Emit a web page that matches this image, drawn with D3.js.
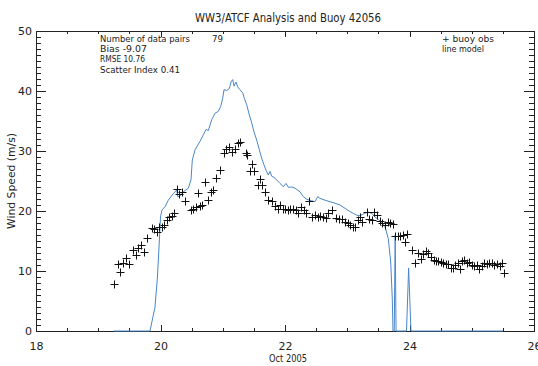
<!DOCTYPE html>
<html><head><meta charset="utf-8">
<script src="https://cdn.jsdelivr.net/npm/d3@7"></script>
<style>
html,body{margin:0;padding:0;background:#fff;}
svg{display:block;}
text{font-family:"DejaVu Sans","Liberation Sans",sans-serif;fill:#222;}
</style></head>
<body>
<script>
// ---------- data ----------
const obsDay = [19.258,19.312,19.354,19.402,19.441,19.494,19.563,19.606,19.643,19.687,19.730,19.779,
19.858,19.895,19.939,19.981,20.019,20.056,20.100,20.142,20.180,20.222,20.270,20.297,20.340,20.394,
20.490,20.527,20.565,20.607,20.634,20.671,20.715,20.768,20.812,20.849,20.891,20.956,21.020,21.052,
21.101,21.153,21.197,21.250,21.277,21.368,21.395,21.438,21.475,21.507,21.571,21.598,21.635,21.679,
21.732,21.786,21.840,21.882,21.924,21.963,22.000,22.043,22.085,22.134,22.176,22.213,22.257,22.300,
22.342,22.391,22.438,22.482,22.526,22.567,22.611,22.654,22.695,22.751,22.819,22.873,22.920,22.964,
23.008,23.044,23.088,23.125,23.168,23.209,23.241,23.312,23.354,23.402,23.434,23.483,23.526,23.563,
23.607,23.650,23.686,23.730,23.767,23.811,23.852,23.891,23.928,23.965,24.036,24.088,24.141,24.185,
24.222,24.265,24.302,24.345,24.389,24.426,24.462,24.501,24.543,24.587,24.623,24.662,24.699,24.736,
24.775,24.812,24.848,24.880,24.919,24.956,25.000,25.037,25.080,25.117,25.160,25.197,25.240,25.277,
25.321,25.362,25.406,25.449,25.481,25.523];
const obsSpeed = [7.8,11.2,9.9,11.3,12.1,11.2,13.5,12.7,13.8,14.3,13.1,15.5,
17.1,17.0,16.5,17.3,17.4,17.7,18.5,19.0,19.2,19.6,23.6,22.8,23.1,21.7,
20.2,20.3,20.6,23.0,20.8,21.0,24.9,21.8,23.1,23.5,25.5,26.8,29.6,30.4,
30.7,29.9,30.4,31.3,31.5,29.7,29.3,26.6,27.9,26.6,24.3,25.3,24.3,23.2,
21.9,21.7,20.8,20.4,21.0,20.4,20.4,20.2,20.4,20.3,20.2,19.7,20.6,20.2,
19.6,21.7,18.95,19.3,19.05,19.2,18.95,18.8,19.6,20.2,18.8,18.6,18.6,18.2,
18.05,17.7,17.4,17.4,18.5,18.95,18.2,19.9,18.6,18.5,19.9,19.3,18.4,18.05,
17.7,18.2,17.95,17.8,15.8,15.8,15.8,16.0,14.9,16.1,13.5,11.3,13.05,11.95,
12.8,13.3,12.95,12.3,11.8,11.7,11.7,11.55,11.4,11.2,11.1,10.45,10.45,11.0,
11.3,10.3,11.7,11.8,11.3,11.55,11.0,10.8,11.0,10.3,10.8,11.3,11.2,11.4,
11.3,11.0,11.2,10.8,11.4,9.7];

const modelDay = [19.25,19.831,19.912,19.951,19.981,20.000,20.024,20.073,20.125,20.206,20.260,20.276,
20.313,20.367,20.447,20.490,20.511,20.555,20.634,20.688,20.731,20.768,20.822,20.876,20.928,20.967,
20.999,21.020,21.064,21.106,21.133,21.160,21.181,21.213,21.240,21.277,21.321,21.346,21.385,21.427,
21.465,21.502,21.546,21.588,21.625,21.662,21.695,21.732,21.759,21.786,21.823,21.867,21.919,21.973,
22.016,22.053,22.107,22.161,22.241,22.294,22.349,22.429,22.482,22.526,22.562,22.643,22.723,22.803,
22.883,22.964,23.044,23.097,23.152,23.204,23.274,23.338,23.393,23.446,23.499,23.554,23.607,23.659,
23.698,23.723,23.735,23.755,23.770,23.784,23.952,23.986,24.024,25.50];
const modelSpeed = [0,0,4,9,15,19,20.2,20.7,21.8,22.9,23.5,22.4,
22.5,23.2,23.8,25.2,28.5,30.2,31.6,32.7,33.6,33.4,35.2,36.3,36.6,37.4,
38.8,40.2,40.1,40.4,41.5,41.9,40.8,41.5,40.7,40.2,39.7,38.8,37.7,36.0,
34.7,33.2,31.8,30.2,28.8,27.7,26.8,26.0,26.6,25.8,25.6,25.2,24.6,24.05,
24.6,23.95,24.0,23.8,23.2,22.4,21.95,21.7,21.55,22.4,22.1,21.8,21.55,21.3,
21.0,20.45,19.9,19.6,19.3,19.2,19.6,19.8,19.6,19.0,18.6,18.0,17.4,15.4,
11.5,5.5,0,0,16,0,0,10.5,0,0];

const xTicks = [18,20,22,24,26];
const xMinor = [18.5,19,19.5,20.5,21,21.5,22.5,23,23.5,24.5,25,25.5];
const yTicks = [0,10,20,30,40,50];
const yMinor = [1,2,3,4,5,6,7,8,9,11,12,13,14,15,16,17,18,19,21,22,23,24,25,26,27,28,29,
31,32,33,34,35,36,37,38,39,41,42,43,44,45,46,47,48,49];
const titleText = "WW3/ATCF Analysis and Buoy 42056";
const statLines = ["Number of data pairs","Bias -9.07","RMSE 10.76","Scatter Index  0.41"];
const pairCount = "79";
const legendLines = ["+ buoy obs","line model"];
const xTitle = "Oct 2005";
const yTitle = "Wind Speed (m/s)";

// ---------- layout ----------
const W=538,H=366;
const L=36,R=534,T=31,B=331;
const ink="#222";
const blue="#4a86c8";

const svg=d3.select("body").append("svg").attr("width",W).attr("height",H);
svg.append("rect").attr("width",W).attr("height",H).attr("fill","#fff");

const x=d3.scaleLinear().domain([18,26]).range([L,R]);
const y=d3.scaleLinear().domain([0,50]).range([B,T]);

function styleAxis(g){
  g.select(".domain").attr("stroke",ink).attr("stroke-width",1);
  g.selectAll(".tick line").attr("stroke",ink).attr("stroke-width",1);
  g.selectAll(".tick text").attr("fill",ink).style("font-size","11px").style("font-family",'"DejaVu Sans",sans-serif');
  g.attr("shape-rendering","crispEdges");
}
// bottom
svg.append("g").attr("transform",`translate(0,${B})`)
  .call(d3.axisBottom(x).tickValues(xTicks).tickSize(-6).tickSizeOuter(0).tickPadding(11).tickFormat(d3.format("d")))
  .call(styleAxis);
svg.append("g").attr("transform",`translate(0,${B})`)
  .call(d3.axisBottom(x).tickValues(xMinor).tickSize(-3).tickSizeOuter(0).tickFormat(""))
  .call(g=>g.select(".domain").remove()).call(styleAxis);
// top
svg.append("g").attr("transform",`translate(0,${T})`)
  .call(d3.axisTop(x).tickValues(xTicks).tickSize(-6).tickSizeOuter(0).tickFormat(""))
  .call(styleAxis);
svg.append("g").attr("transform",`translate(0,${T})`)
  .call(d3.axisTop(x).tickValues(xMinor).tickSize(-3).tickSizeOuter(0).tickFormat(""))
  .call(g=>g.select(".domain").remove()).call(styleAxis);
// left
svg.append("g").attr("transform",`translate(${L},0)`)
  .call(d3.axisLeft(y).tickValues(yTicks).tickSize(-10).tickSizeOuter(0).tickPadding(4))
  .call(styleAxis);
svg.append("g").attr("transform",`translate(${L},0)`)
  .call(d3.axisLeft(y).tickValues(yMinor).tickSize(-5).tickSizeOuter(0).tickFormat(""))
  .call(g=>g.select(".domain").remove()).call(styleAxis);
// right
svg.append("g").attr("transform",`translate(${R},0)`)
  .call(d3.axisRight(y).tickValues(yTicks).tickSize(-10).tickSizeOuter(0).tickFormat(""))
  .call(styleAxis);
svg.append("g").attr("transform",`translate(${R},0)`)
  .call(d3.axisRight(y).tickValues(yMinor).tickSize(-5).tickSizeOuter(0).tickFormat(""))
  .call(g=>g.select(".domain").remove()).call(styleAxis);

// model line
const model = modelDay.map((d,i)=>({d,v:modelSpeed[i]}));
svg.append("path").datum(model)
  .attr("fill","none").attr("stroke",blue).attr("stroke-width",1)
  .attr("d",d3.line().x(p=>x(p.d)).y(p=>y(p.v)));

// obs markers
const obs = obsDay.map((d,i)=>({d,v:obsSpeed[i]}));
const s=4;
svg.append("g").selectAll("path").data(obs).join("path")
  .attr("d",p=>{const cx=Math.round(x(p.d))+0.5,cy=Math.round(y(p.v))+0.5;return `M${cx-s},${cy}H${cx+s}M${cx},${cy-s}V${cy+s}`;})
  .attr("stroke","#111").attr("stroke-width",1).attr("fill","none");

// texts
function txt(str,xx,yy,size,len,anchor){
  const t=svg.append("text").attr("x",xx).attr("y",yy).style("font-size",size+"px").text(str);
  if(anchor) t.attr("text-anchor",anchor);
  if(len) t.attr("textLength",len).attr("lengthAdjust","spacingAndGlyphs");
  return t;
}
txt(titleText,288,22,13,186,"middle");
const statLens=[90,47,45,80];
statLines.forEach((s2,i)=>txt(s2,100,42+i*10.2,9.5,statLens[i]));
txt(pairCount,212,42,9.5,11);
txt(legendLines[0],442,42,9.5,52);
txt(legendLines[1],442,52.2,9.5,42);
txt(xTitle,288,362,10.5,38,"middle");
svg.append("text").attr("transform",`translate(15,${(T+B)/2}) rotate(-90)`)
  .attr("text-anchor","middle").style("font-size","11px")
  .attr("textLength",96).attr("lengthAdjust","spacingAndGlyphs").text(yTitle);
</script>
</body></html>
